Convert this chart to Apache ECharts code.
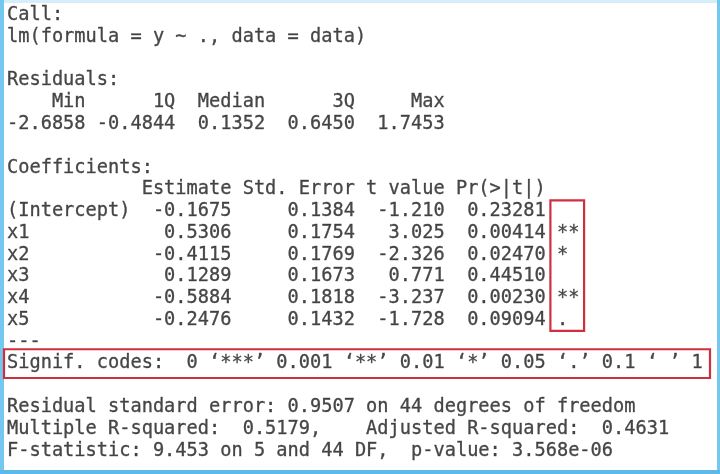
<!DOCTYPE html>
<html><head><meta charset="utf-8">
<script src="https://cdn.jsdelivr.net/npm/echarts@6/dist/echarts.min.js"></script>
<style>html,body{margin:0;padding:0;background:#fff}#c{width:720px;height:474px}</style>
</head><body><div id="c"></div>
<script>
// ---- data read from the R summary(lm) output ----
const callText = "lm(formula = y ~ ., data = data)";
const residualLabels = ["Min", "1Q", "Median", "3Q", "Max"];
const residualValues = [-2.6858, -0.4844, 0.1352, 0.6450, 1.7453];
const coefNames = ["(Intercept)", "x1", "x2", "x3", "x4", "x5"];
const estimates = [-0.1675, 0.5306, -0.4115, 0.1289, -0.5884, -0.2476];
const stdErrors = [0.1384, 0.1754, 0.1769, 0.1673, 0.1818, 0.1432];
const tValues = [-1.210, 3.025, -2.326, 0.771, -3.237, -1.728];
const pValues = [0.23281, 0.00414, 0.02470, 0.44510, 0.00230, 0.09094];
const signifStars = ["", "**", "*", "", "**", "."];
const signifCodes = "Signif. codes:  0 \u2018***\u2019 0.001 \u2018**\u2019 0.01 \u2018*\u2019 0.05 \u2018.\u2019 0.1 \u2018 \u2019 1";
const residualSE = 0.9507, residualDF = 44;
const multipleR2 = 0.5179, adjustedR2 = 0.4631;
const fStat = 9.453, fDF1 = 5, fDF2 = 44, fPValue = "3.568e-06";

// ---- build the console lines ----
const pad = (s, n) => String(s).padStart(n, " ");
const lines = [];
lines.push("Call:");
lines.push(callText);
lines.push("");
lines.push("Residuals:");
lines.push(residualLabels.map(l => pad(l, 7)).join(" "));
lines.push(residualValues.map(v => pad(v.toFixed(4), 7)).join(" "));
lines.push("");
lines.push("Coefficients:");
lines.push(" ".repeat(11) + " " + pad("Estimate", 8) + " " + pad("Std. Error", 10) + " " + pad("t value", 7) + " " + pad("Pr(>|t|)", 8));
const coefStartRow = lines.length;
coefNames.forEach((n, i) => {
  lines.push(n.padEnd(11, " ") + " " + pad(estimates[i].toFixed(4), 8) + " " + pad(stdErrors[i].toFixed(4), 10) + " " +
    pad(tValues[i].toFixed(3), 7) + " " + pad(pValues[i].toFixed(5), 8) + " " + signifStars[i]);
});
lines.push("---");
const signifRow = lines.length;
lines.push(signifCodes);
lines.push("");
lines.push("Residual standard error: " + residualSE.toFixed(4) + " on " + residualDF + " degrees of freedom");
lines.push("Multiple R-squared:  " + multipleR2.toFixed(4) + ",\tAdjusted R-squared:  " + adjustedR2.toFixed(4));
lines.push("F-statistic: " + fStat.toFixed(3) + " on " + fDF1 + " and " + fDF2 + " DF,  p-value: " + fPValue);
// expand tab like R console (to next multiple of 8)
for (let i = 0; i < lines.length; i++) {
  let s = lines[i], out = "";
  for (const ch of s) { if (ch === "\t") { const n = 8 - (out.length % 8); out += " ".repeat(n); } else out += ch; }
  lines[i] = out;
}

const FS = 18.65, CW = FS * 0.602, LH = 21.77, X0 = 7, Y0 = 15.3, W = 720, H = 474;
const starCol0 = 48.4, starCol1 = 51.4;

const chart = echarts.init(document.getElementById('c'), null, {renderer: 'canvas'});
chart.setOption({
  animation: false,
  backgroundColor: '#ffffff',
  grid: {left: 0, right: 0, top: 0, bottom: 0},
  xAxis: {type: 'value', min: -X0 / CW, max: (W - X0) / CW, show: false},
  yAxis: {type: 'value', inverse: true, min: -Y0 / LH, max: (H - Y0) / LH, show: false},
  graphic: [
    {type: 'rect', z: 0, shape: {x: 0, y: 0, width: W, height: 3}, style: {fill: '#d6eef9'}},
    {type: 'rect', z: 0, shape: {x: 0, y: 0, width: 4, height: H}, style: {fill: '#74c7ee'}},
    {type: 'rect', z: 0, shape: {x: W - 3, y: 0, width: 3, height: H}, style: {fill: '#74c7ee'}},
    {type: 'rect', z: 0, shape: {x: 0, y: H - 4, width: W, height: 4}, style: {fill: '#5cb9e8'}}
  ],
  series: [{
    type: 'scatter',
    symbolSize: 0,
    silent: true,
    data: lines.map((t, i) => [0, i, t]),
    label: {
      show: true, position: 'right', distance: 0,
      formatter: p => p.data[2],
      fontFamily: 'DejaVu Sans Mono', fontSize: FS, color: '#1a1a1a',
      textBorderColor: '#3a3a3a', textBorderWidth: 0.35,
      align: 'left', verticalAlign: 'middle'
    },
    labelLayout: {hideOverlap: false},
    markArea: {
      silent: true,
      itemStyle: {color: 'rgba(0,0,0,0)', borderColor: '#d0303e', borderWidth: 2.2},
      data: [
        [{coord: [starCol0, coefStartRow - 0.5]}, {coord: [starCol1, coefStartRow + coefNames.length - 0.5]}],
        [{coord: [(4 - X0) / CW, signifRow - 0.66]}, {coord: [(710 - X0) / CW, signifRow + 0.66]}]
      ]
    }
  }]
});
</script></body></html>
